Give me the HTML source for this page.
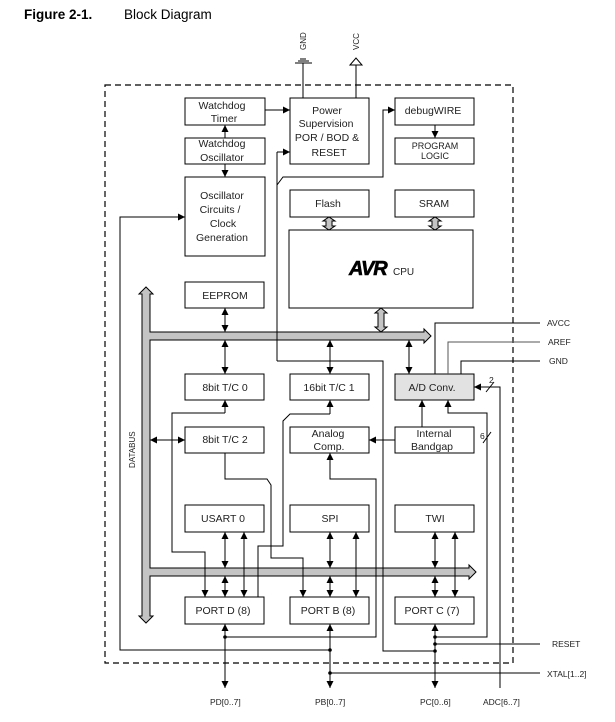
<!DOCTYPE html>
<html><head><meta charset="utf-8"><style>
html,body{margin:0;padding:0;background:#fff;font-family:"Liberation Sans",Arial,sans-serif;}
svg{display:block;}
svg text{font-family:"Liberation Sans",Arial,sans-serif;font-size:10.5px;fill:#222;}
</style></head><body>
<svg width="615" height="722" viewBox="0 0 615 722" xmlns="http://www.w3.org/2000/svg" font-family="Liberation Sans, Arial, sans-serif">
<defs>
<marker id="a" viewBox="0 0 10 10" refX="10" refY="5" markerWidth="7" markerHeight="7" orient="auto-start-reverse" markerUnits="userSpaceOnUse"><path d="M0,0 L10,5 L0,10 z" fill="#000"/></marker>
</defs>
<text x="24" y="19" style="font-size:13.5px;font-weight:bold;fill:#000">Figure 2-1.</text>
<text x="124" y="19" style="font-size:13.5px;fill:#000">Block Diagram</text>

<rect x="105" y="85" width="408" height="578" fill="none" stroke="#000" stroke-width="1.2" stroke-dasharray="6,4"/>

<text transform="translate(306,50) rotate(-90)" style="font-size:8px">GND</text>
<text transform="translate(359,50) rotate(-90)" style="font-size:8px">VCC</text>
<g stroke="#000" stroke-width="1" fill="none">
<line x1="303" y1="98" x2="303" y2="63"/>
<line x1="295" y1="63" x2="312" y2="63"/><line x1="298" y1="61" x2="309" y2="61"/><line x1="300" y1="59" x2="306" y2="59"/>
<line x1="356" y1="98" x2="356" y2="65"/>
<path d="M350,65 L356,58 L362,65 z" fill="#fff"/>
</g>

<g stroke="#000" stroke-width="1" fill="#fff">
<rect x="185" y="98" width="80" height="27"/>
<rect x="185" y="138" width="80" height="26"/>
<rect x="185" y="177" width="80" height="79"/>
<rect x="290" y="98" width="79" height="66"/>
<rect x="395" y="98" width="79" height="27"/>
<rect x="395" y="138" width="79" height="26"/>
<rect x="290" y="190" width="79" height="27"/>
<rect x="395" y="190" width="79" height="27"/>
<rect x="289" y="230" width="184" height="78"/>
<rect x="185" y="282" width="79" height="26"/>
<rect x="185" y="374" width="79" height="26"/>
<rect x="290" y="374" width="79" height="26"/>
<rect x="395" y="374" width="79" height="26" fill="#e2e2e2"/>
<rect x="185" y="427" width="79" height="26"/>
<rect x="290" y="427" width="79" height="26"/>
<rect x="395" y="427" width="79" height="26"/>
<rect x="185" y="505" width="79" height="27"/>
<rect x="290" y="505" width="79" height="27"/>
<rect x="395" y="505" width="79" height="27"/>
<rect x="185" y="597" width="79" height="27"/>
<rect x="290" y="597" width="79" height="27"/>
<rect x="395" y="597" width="79" height="27"/>
</g>

<g text-anchor="middle">
<text x="222" y="109">Watchdog</text><text x="224" y="122">Timer</text>
<text x="222" y="147">Watchdog</text><text x="222" y="161">Oscillator</text>
<text x="222" y="199">Oscillator</text><text x="220" y="213">Circuits /</text><text x="223" y="227">Clock</text><text x="222" y="241">Generation</text>
<text x="327" y="114">Power</text><text x="326" y="127">Supervision</text><text x="327" y="141">POR / BOD &amp;</text><text x="329" y="156">RESET</text>
<text x="433" y="114">debugWIRE</text>
<text x="435" y="149" style="font-size:9px">PROGRAM</text><text x="435" y="159" style="font-size:9px">LOGIC</text>
<text x="328" y="207">Flash</text><text x="434" y="207">SRAM</text>
<text x="225" y="299">EEPROM</text>
<text x="225" y="391">8bit T/C 0</text>
<text x="329" y="391">16bit T/C 1</text>
<text x="432" y="391">A/D Conv.</text>
<text x="225" y="443">8bit T/C 2</text>
<text x="328" y="437">Analog</text><text x="329" y="450">Comp.</text>
<text x="434" y="437">Internal</text><text x="432" y="450">Bandgap</text>
<text x="223" y="522">USART 0</text><text x="330" y="522">SPI</text><text x="435" y="522">TWI</text>
<text x="223" y="614">PORT D (8)</text><text x="328" y="614">PORT B (8)</text><text x="432" y="614">PORT C (7)</text>
</g>
<text x="349" y="275" style="font-size:20px;font-weight:bold;font-style:italic;fill:#000;letter-spacing:-1px;stroke:#000;stroke-width:0.6">AVR</text>
<text x="393" y="275" style="font-size:10px">CPU</text>
<text transform="translate(135,468) rotate(-90)" style="font-size:8px">DATABUS</text>

<g fill="#c4c4c4" stroke="#000" stroke-width="1">
<path d="M142,294 L139,294 L146,287 L153,294 L150,294 L150,332 L424,332 L424,329 L431,336 L424,343 L424,340 L150,340 L150,568 L469,568 L469,565 L476,572 L469,579 L469,576 L150,576 L150,616 L153,616 L146,623 L139,616 L142,616 z"/>
<path d="M326,221 L323,221 L329,217 L335,221 L332,221 L332,226 L335,226 L329,230 L323,226 L326,226 z"/>
<path d="M432,221 L429,221 L435,217 L441,221 L438,221 L438,226 L441,226 L435,230 L429,226 L432,226 z"/>
<path d="M378,313 L375,313 L381,308 L387,313 L384,313 L384,327 L387,327 L381,332 L375,327 L378,327 z"/>
</g>

<g stroke="#000" stroke-width="1" fill="none">
<line x1="265" y1="110" x2="290" y2="110" marker-end="url(#a)"/>
<line x1="225" y1="138" x2="225" y2="125" marker-end="url(#a)"/>
<line x1="225" y1="164" x2="225" y2="177" marker-end="url(#a)"/>
<line x1="435" y1="125" x2="435" y2="138" marker-end="url(#a)"/>
<line x1="277" y1="152" x2="277" y2="361"/>
<line x1="277" y1="152" x2="290" y2="152" marker-end="url(#a)"/>
<path d="M277,185 L283,177 L383,177 L383,110 L395,110" marker-end="url(#a)"/>
<path d="M277,361 L383,361 L383,651 L435,651"/>
<path d="M185,217 L120,217 L120,650 L330,650"/>
<path d="M170,217 L185,217" marker-end="url(#a)"/>
<line x1="225" y1="308" x2="225" y2="332" marker-start="url(#a)" marker-end="url(#a)"/>
<line x1="225" y1="340" x2="225" y2="374" marker-start="url(#a)" marker-end="url(#a)"/>
<line x1="330" y1="340" x2="330" y2="374" marker-start="url(#a)" marker-end="url(#a)"/>
<line x1="409" y1="340" x2="409" y2="374" marker-start="url(#a)" marker-end="url(#a)"/>
<line x1="150" y1="440" x2="185" y2="440" marker-start="url(#a)" marker-end="url(#a)"/>
<path d="M435,374 L435,323 L540,323"/>
<path d="M448,374 L448,342 L540,342" stroke="#555"/>
<path d="M461,374 L461,361 L540,361"/>
<line x1="422" y1="427" x2="422" y2="400" marker-end="url(#a)"/>
<path d="M435,637 L487,637 L487,413 L448,413 L448,400" marker-end="url(#a)"/>
<path d="M500,688 L500,387 L474,387" marker-end="url(#a)"/>
<line x1="483" y1="443" x2="491" y2="432"/>
<line x1="486" y1="392" x2="494" y2="382"/>
<line x1="395" y1="440" x2="369" y2="440" marker-end="url(#a)"/>
<path d="M225,637 L376,637 L376,479 L330,479 L330,453" marker-end="url(#a)"/>
<path d="M225,413 L225,400" marker-end="url(#a)"/>
<path d="M225,413 L172,413 L172,552 L205,552 L205,597" marker-end="url(#a)"/>
<path d="M330,414 L330,400" marker-end="url(#a)"/>
<path d="M330,414 L290,414 L283,421 L283,546 L258,546 L258,597"/>
<path d="M225,453 L225,479 L267,479 L271,485 L271,558 L303,558 L303,597" marker-end="url(#a)"/>
<line x1="225" y1="532" x2="225" y2="568" marker-start="url(#a)" marker-end="url(#a)"/>
<line x1="225" y1="576" x2="225" y2="597" marker-start="url(#a)" marker-end="url(#a)"/>
<line x1="244" y1="532" x2="244" y2="597" marker-start="url(#a)" marker-end="url(#a)"/>
<line x1="330" y1="532" x2="330" y2="568" marker-start="url(#a)" marker-end="url(#a)"/>
<line x1="330" y1="576" x2="330" y2="597" marker-start="url(#a)" marker-end="url(#a)"/>
<line x1="356" y1="532" x2="356" y2="597" marker-start="url(#a)" marker-end="url(#a)"/>
<line x1="435" y1="532" x2="435" y2="568" marker-start="url(#a)" marker-end="url(#a)"/>
<line x1="435" y1="576" x2="435" y2="597" marker-start="url(#a)" marker-end="url(#a)"/>
<line x1="455" y1="532" x2="455" y2="597" marker-start="url(#a)" marker-end="url(#a)"/>
<line x1="225" y1="624" x2="225" y2="688" marker-start="url(#a)" marker-end="url(#a)"/>
<line x1="330" y1="624" x2="330" y2="688" marker-start="url(#a)" marker-end="url(#a)"/>
<line x1="435" y1="624" x2="435" y2="688" marker-start="url(#a)" marker-end="url(#a)"/>
<line x1="435" y1="644" x2="540" y2="644"/>
<line x1="330" y1="673" x2="540" y2="673"/>
</g>
<g fill="#000">
<circle cx="225" cy="637" r="1.8"/><circle cx="330" cy="650" r="1.8"/><circle cx="330" cy="673" r="1.8"/>
<circle cx="435" cy="637" r="1.8"/><circle cx="435" cy="644" r="1.8"/><circle cx="435" cy="651" r="1.8"/>
</g>
<text x="547" y="326" style="font-size:8.5px">AVCC</text>
<text x="548" y="345" style="font-size:8.5px">AREF</text>
<text x="549" y="364" style="font-size:8.5px">GND</text>
<text x="552" y="647" style="font-size:8.5px">RESET</text>
<text x="547" y="677" style="font-size:8.5px">XTAL[1..2]</text>
<text x="210" y="705" style="font-size:8.5px">PD[0..7]</text>
<text x="315" y="705" style="font-size:8.5px">PB[0..7]</text>
<text x="420" y="705" style="font-size:8.5px">PC[0..6]</text>
<text x="483" y="705" style="font-size:8.5px">ADC[6..7]</text>
<text x="489" y="383" style="font-size:8.5px">2</text>
<text x="480" y="439" style="font-size:8.5px">6</text>
</svg>
</body></html>
